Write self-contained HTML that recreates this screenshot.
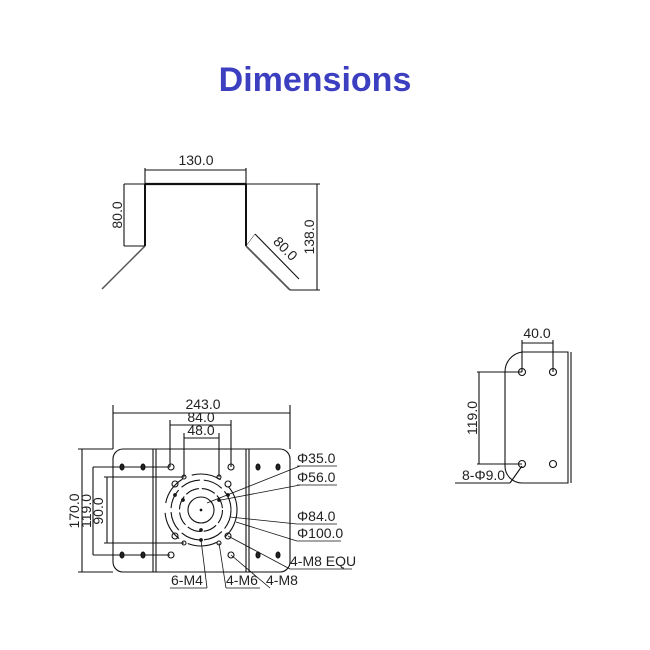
<!DOCTYPE html>
<html><head><style>body{margin:0;background:#fff}svg{display:block}</style></head><body>
<svg width="650" height="650" viewBox="0 0 650 650" xmlns="http://www.w3.org/2000/svg" font-family="Liberation Sans, sans-serif" fill="none" stroke="#111" stroke-width="1.1">
<text x="315" y="91" text-anchor="middle" font-size="34" font-weight="bold" fill="#3b3fc0" stroke="none">Dimensions</text>
<!-- top bracket -->
<g>
<line x1="145" y1="184" x2="246" y2="184" stroke-width="2.2"/>
<line x1="145" y1="184" x2="145" y2="246" stroke-width="2"/>
<line x1="246" y1="184" x2="246" y2="246" stroke-width="2"/>
<line x1="145" y1="246" x2="102" y2="289" stroke="#555" stroke-width="1.5"/>
<line x1="246" y1="246" x2="290" y2="290" stroke="#555" stroke-width="1.8"/>
<line x1="145" y1="168" x2="145" y2="184"/><line x1="246" y1="168" x2="246" y2="184"/>
<line x1="145" y1="170" x2="246" y2="170"/>
<line x1="124" y1="184" x2="145" y2="184"/><line x1="124" y1="246" x2="145" y2="246"/>
<line x1="124" y1="184" x2="124" y2="246"/>
<line x1="246" y1="184" x2="320" y2="184"/><line x1="290" y1="290" x2="320" y2="290"/>
<line x1="317" y1="184" x2="317" y2="290"/>
<line x1="255" y1="234" x2="299" y2="279"/>
<line x1="246" y1="246" x2="255" y2="234" stroke-width="0.5"/>
</g>
<g fill="#222" stroke="none" font-size="14">
<text x="196" y="165" text-anchor="middle">130.0</text>
<text transform="translate(122,215) rotate(-90)" text-anchor="middle">80.0</text>
<text transform="translate(314,237) rotate(-90)" text-anchor="middle">138.0</text>
<text transform="translate(282,252) rotate(45)" text-anchor="middle">80.0</text>
</g>
<!-- bottom plate -->
<g>
<rect x="113" y="449" width="177" height="123" rx="10"/>
<line x1="153" y1="449" x2="153" y2="572"/><line x1="156" y1="449" x2="156" y2="572"/>
<line x1="246" y1="449" x2="246" y2="572"/><line x1="249" y1="449" x2="249" y2="572"/>
<line x1="113" y1="405" x2="113" y2="449"/><line x1="290" y1="405" x2="290" y2="449"/>
<line x1="113" y1="413" x2="290" y2="413"/>
<line x1="170" y1="420" x2="170" y2="467"/><line x1="231" y1="420" x2="231" y2="467"/>
<line x1="170" y1="425" x2="231" y2="425"/>
<line x1="184" y1="433" x2="184" y2="477"/><line x1="219" y1="433" x2="219" y2="477"/>
<line x1="184" y1="438" x2="219" y2="438"/>
<line x1="78" y1="449" x2="113" y2="449"/><line x1="78" y1="572" x2="113" y2="572"/>
<line x1="82" y1="449" x2="82" y2="572"/>
<line x1="93" y1="467" x2="170" y2="467"/><line x1="93" y1="555" x2="170" y2="555"/>
<line x1="93" y1="467" x2="93" y2="555"/>
<line x1="104" y1="477" x2="184" y2="477"/><line x1="104" y1="543" x2="184" y2="543"/>
<line x1="107" y1="477" x2="107" y2="543"/>
<circle cx="201" cy="510" r="13"/>
<circle cx="201" cy="510" r="21.5" stroke-dasharray="14 3"/>
<circle cx="201" cy="510" r="30" stroke-dasharray="20 4"/>
<circle cx="201" cy="510" r="36" stroke-dasharray="30 10"/>
<circle cx="171" cy="467" r="3"/><circle cx="231" cy="467" r="3"/>
<circle cx="171" cy="555" r="3"/><circle cx="231" cy="555" r="3"/>
<circle cx="175" cy="484" r="3"/><circle cx="228" cy="484" r="3"/>
<circle cx="175" cy="536" r="3"/><circle cx="228" cy="536" r="3"/>
<circle cx="184" cy="477" r="2"/><circle cx="219" cy="477" r="2"/>
<circle cx="184" cy="543" r="2"/><circle cx="219" cy="543" r="2"/>
<g fill="#222"><circle cx="175" cy="495" r="1.3"/><circle cx="228" cy="495" r="1.3"/><circle cx="183" cy="500" r="1.3"/><circle cx="219" cy="500" r="1.3"/><circle cx="201" cy="530" r="1.3"/><circle cx="201" cy="540" r="1.3"/><circle cx="201" cy="510" r="0.8"/>
<ellipse cx="122" cy="467" rx="2" ry="3"/><ellipse cx="143" cy="467" rx="2" ry="3"/><ellipse cx="122" cy="555" rx="2" ry="3"/><ellipse cx="143" cy="555" rx="2" ry="3"/>
<ellipse cx="258" cy="467" rx="2" ry="3"/><ellipse cx="278" cy="467" rx="2" ry="3"/><ellipse cx="258" cy="555" rx="2" ry="3"/><ellipse cx="278" cy="555" rx="2" ry="3"/></g>
<g stroke-width="0.8">
<line x1="207" y1="503" x2="300" y2="466"/><line x1="297" y1="466" x2="337" y2="466"/>
<line x1="221" y1="500" x2="300" y2="485"/><line x1="297" y1="485" x2="337" y2="485"/>
<line x1="230" y1="517" x2="297" y2="524"/><line x1="297" y1="524" x2="337" y2="524"/>
<line x1="236" y1="522" x2="297" y2="541"/><line x1="297" y1="541" x2="341" y2="541"/>
<line x1="228" y1="536" x2="290" y2="569"/><line x1="290" y1="569" x2="352" y2="569"/>
<line x1="201" y1="540" x2="207" y2="588"/><line x1="170" y1="588" x2="207" y2="588"/>
<line x1="219" y1="543" x2="226" y2="588"/><line x1="226" y1="588" x2="260" y2="588"/>
<line x1="231" y1="555" x2="270" y2="588"/>
</g>
</g>
<g fill="#222" stroke="none" font-size="14">
<text x="203" y="409" text-anchor="middle">243.0</text>
<text x="201" y="422" text-anchor="middle">84.0</text>
<text x="201" y="435" text-anchor="middle">48.0</text>
<text transform="translate(79,511) rotate(-90)" text-anchor="middle">170.0</text>
<text transform="translate(91,511) rotate(-90)" text-anchor="middle">119.0</text>
<text transform="translate(103,511) rotate(-90)" text-anchor="middle">90.0</text>
<text x="297" y="463">Φ35.0</text>
<text x="297" y="482">Φ56.0</text>
<text x="297" y="521">Φ84.0</text>
<text x="297" y="538">Φ100.0</text>
<text x="290" y="566">4-M8 EQU</text>
<text x="171" y="585">6-M4</text>
<text x="226" y="585">4-M6</text>
<text x="266" y="585">4-M8</text>
</g>
<!-- right plate -->
<g>
<path d="M522 352 H568 V483 H522 A17 17 0 0 1 505 466 V372 A20 20 0 0 1 522 352"/>
<line x1="571" y1="352" x2="571" y2="483"/>
<line x1="522" y1="340" x2="522" y2="372"/><line x1="553" y1="340" x2="553" y2="372"/>
<line x1="522" y1="343" x2="553" y2="343"/>
<line x1="477" y1="372" x2="522" y2="372"/><line x1="477" y1="464" x2="522" y2="464"/>
<line x1="479" y1="372" x2="479" y2="464"/>
<circle cx="522" cy="372" r="3.5"/><circle cx="553" cy="372" r="3.5"/>
<circle cx="522" cy="464" r="3.5"/><circle cx="553" cy="464" r="3.5"/>
<line x1="455" y1="483" x2="510" y2="483"/><line x1="510" y1="483" x2="522" y2="466"/>
</g>
<g fill="#222" stroke="none" font-size="14">
<text x="537" y="338" text-anchor="middle">40.0</text>
<text transform="translate(477,418) rotate(-90)" text-anchor="middle">119.0</text>
<text x="462" y="480">8-Φ9.0</text>
</g>
</svg>
</body></html>
